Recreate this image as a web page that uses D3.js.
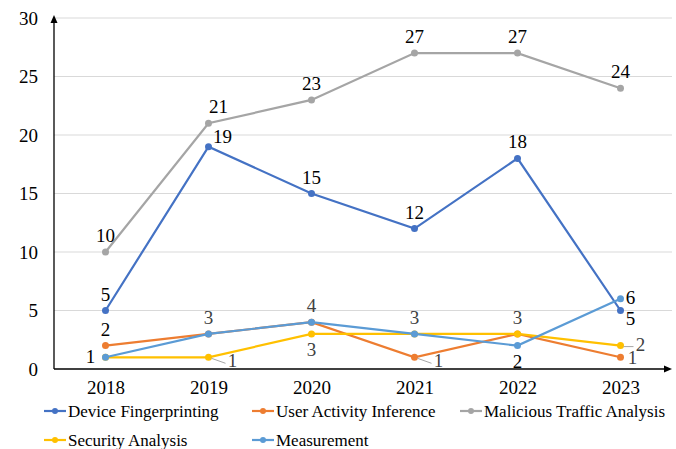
<!DOCTYPE html>
<html>
<head>
<meta charset="utf-8">
<script src="https://cdn.jsdelivr.net/npm/d3@7"></script>
<style>
body { margin: 0; background: #fff; }
</style>
</head>
<body>
<script>
var years = ["2018", "2019", "2020", "2021", "2022", "2023"];
var seriesNames = ["Device Fingerprinting", "User Activity Inference", "Malicious Traffic Analysis", "Security Analysis", "Measurement"];
var fingerprinting = [5, 19, 15, 12, 18, 5];
var activity = [2, 3, 4, 1, 3, 1];
var malicious = [10, 21, 23, 27, 27, 24];
var security = [1, 1, 3, 3, 3, 2];
var measurement = [1, 3, 4, 3, 2, 6];
var yTicks = [0, 5, 10, 15, 20, 25, 30];

var colors = ["#4472C4", "#ED7D31", "#A5A5A5", "#FFC000", "#5B9BD5"];
var allSeries = [fingerprinting, activity, malicious, security, measurement];
var FONT = "Liberation Serif";

// label placement: [series, year index, dx, dy, color, leader]
var labelPos = [
  [2,0,0,-10,"#000"],[2,1,10,-10,"#000"],[2,2,0,-10,"#000"],[2,3,0,-10,"#000"],[2,4,0,-10,"#000"],[2,5,0,-10,"#000"],
  [0,0,0,-10,"#000"],[0,1,14,-4,"#000"],[0,2,0,-10,"#000"],[0,3,0,-10,"#000"],[0,4,0,-10,"#000"],[0,5,10,14,"#000"],
  [1,0,0,-10,"#000"],[1,2,0,-10,"#404040"],[1,3,24,10,"#404040",1],[1,4,0,-10,"#404040"],[1,5,12,7,"#404040"],
  [3,0,-15,6,"#000"],[3,1,24,10,"#404040",1],[3,2,0,22,"#404040"],[3,5,20,5,"#404040",1],
  [4,1,0,-10,"#404040"],[4,3,0,-10,"#404040"],[4,4,0,22,"#000"],[4,5,10,5,"#000"]
];

var svg = d3.select("body").append("svg").attr("width", 676).attr("height", 449)
  .style("font-family", FONT);

var x = d3.scalePoint().domain(years).range([54, 672]).padding(0.5);
var y = d3.scaleLinear().domain([0, 30]).range([369, 18]);

// gridlines
svg.append("g").selectAll("line").data(yTicks.filter(d => d > 0)).enter().append("line")
  .attr("x1", 54).attr("x2", 672).attr("y1", d => y(d)).attr("y2", d => y(d))
  .attr("stroke", "#d9d9d9").attr("stroke-width", 1);

// axes
var yAxis = svg.append("g").attr("transform", "translate(54,0)")
  .call(d3.axisLeft(y).tickValues(yTicks).tickSize(0).tickPadding(16));
yAxis.select(".domain").remove();
yAxis.selectAll("text").style("font-size", "19px").style("font-family", FONT).attr("fill", "#000");

var xAxis = svg.append("g").attr("transform", "translate(0,369)")
  .call(d3.axisBottom(x).tickSize(0).tickPadding(12));
xAxis.select(".domain").remove();
xAxis.selectAll("text").style("font-size", "19px").style("font-family", FONT).attr("fill", "#000");

// axis lines with arrow heads
svg.append("line").attr("x1", 54).attr("y1", 369).attr("x2", 54).attr("y2", 22)
  .attr("stroke", "#000").attr("stroke-width", 1.3);
svg.append("path").attr("d", "M50.5,23 L54,15 L57.5,23 Z").attr("fill", "#000");
svg.append("line").attr("x1", 54).attr("y1", 369).attr("x2", 665).attr("y2", 369)
  .attr("stroke", "#000").attr("stroke-width", 1.3);
svg.append("path").attr("d", "M664,365.5 L672,369 L664,372.5 Z").attr("fill", "#000");

// lines
var line = d3.line().x((d, i) => x(years[i])).y(d => y(d));
allSeries.forEach(function (vals, s) {
  svg.append("path").datum(vals).attr("d", line).attr("fill", "none")
    .attr("stroke", colors[s]).attr("stroke-width", 2.2);
  svg.append("g").selectAll("circle").data(vals).enter().append("circle")
    .attr("cx", (d, i) => x(years[i])).attr("cy", d => y(d)).attr("r", 3.5)
    .attr("fill", colors[s]);
});

// data labels
labelPos.forEach(function (p) {
  var v = allSeries[p[0]][p[1]];
  var px = x(years[p[1]]), py = y(v);
  if (p[5]) {
    svg.append("line").attr("x1", px + 3).attr("y1", py + 1).attr("x2", px + p[2] - 7).attr("y2", py + p[3] - 4)
      .attr("stroke", "#a6a6a6").attr("stroke-width", 1);
  }
  svg.append("text").attr("x", px + p[2]).attr("y", py + p[3])
    .style("font-family", FONT).style("font-size", "19px")
    .attr("text-anchor", "middle").attr("fill", p[4]).text(v);
});

// legend
var legendPos = [[44, 411], [252, 411], [460, 411], [44, 440], [252, 440]];
seriesNames.forEach(function (name, s) {
  var g = svg.append("g").attr("transform", "translate(" + legendPos[s][0] + "," + legendPos[s][1] + ")");
  g.append("line").attr("x1", 0).attr("x2", 22).attr("stroke", colors[s]).attr("stroke-width", 2.2);
  g.append("circle").attr("cx", 11).attr("r", 3).attr("fill", colors[s]);
  g.append("text").attr("x", 24).attr("y", 6)
    .style("font-family", FONT).style("font-size", "17px").attr("fill", "#000").text(name);
});
</script>
</body>
</html>
